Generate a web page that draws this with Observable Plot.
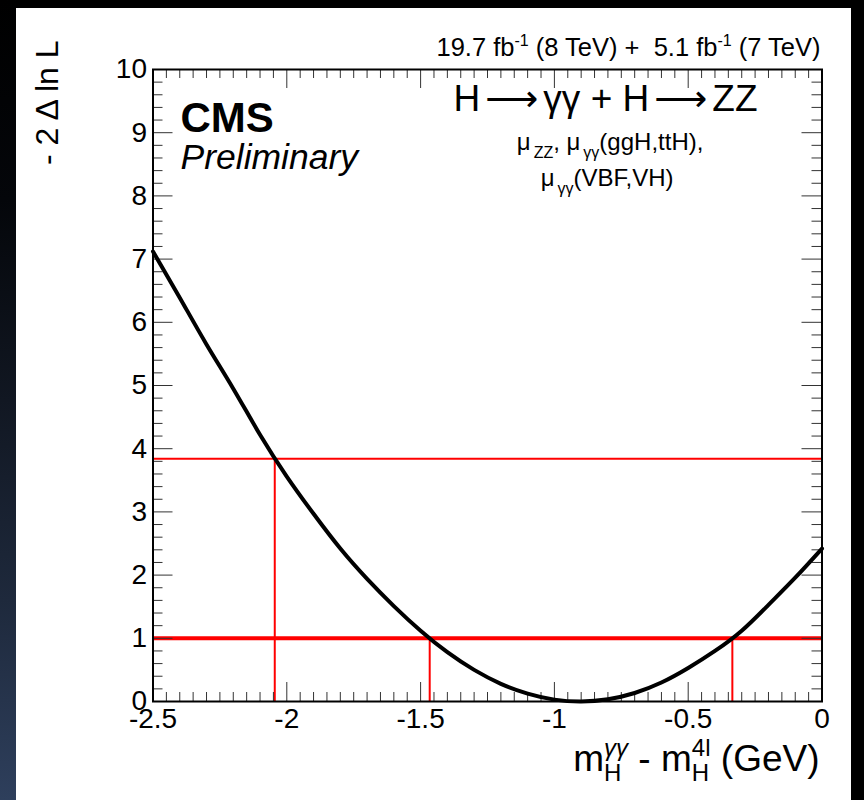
<!DOCTYPE html>
<html>
<head>
<meta charset="utf-8">
<script src="https://cdn.jsdelivr.net/npm/d3@7"></script>
<script src="https://cdn.jsdelivr.net/npm/@observablehq/plot@0.6"></script>
<style>
  html, body { margin: 0; padding: 0; background: #000; width: 864px; height: 800px; overflow: hidden; }
  #strip { position: absolute; left: 0; top: 0; width: 16px; height: 800px;
    background: linear-gradient(to bottom, #000 0%, #04060a 25%, #111722 50%, #1e293c 75%, #2e3f5c 100%); }
  #panel { position: absolute; left: 16px; top: 8px; width: 835px; height: 792px; background: #fff; }
  #panel svg { display: block; }
  text { white-space: pre; }
</style>
</head>
<body>
<div id="strip"></div>
<div id="panel"></div>
<script>
// Profile likelihood scan: -2 Δln L versus the mass difference m_H(γγ) - m_H(4l)
const scanDm = [-2.5, -2.4, -2.3, -2.2, -2.1, -2.0, -1.9, -1.8, -1.7, -1.6, -1.5, -1.4, -1.3,
                -1.2, -1.1, -1.0, -0.9, -0.8, -0.7, -0.6, -0.5, -0.4, -0.3, -0.2, -0.1, 0.0];
const scanNll = [7.12, 6.39, 5.65, 4.95, 4.22, 3.56, 2.97, 2.42, 1.94, 1.51, 1.12, 0.78, 0.50,
                 0.28, 0.125, 0.03, 0.0, 0.035, 0.135, 0.30, 0.53, 0.80, 1.12, 1.53, 1.96, 2.42];

// Confidence-level thresholds and where the scan crosses them
const levels = [3.84, 1];
const crossDm = [-2.045, -1.466, -0.335];
const crossLevel = [3.84, 1, 1];

// Axis ticks
const xDomain = [-2.5, 0];
const yDomain = [0, 10];
const xTicks = [-2.5, -2, -1.5, -1, -0.5, 0];
const yTicks = [0, 1, 2, 3, 4, 5, 6, 7, 8, 9, 10];

const scan = scanDm.map((x, i) => ({x, y: scanNll[i]}));
const crossings = crossDm.map((x, i) => ({x, level: crossLevel[i]}));

const W = 835, H = 792;
const mL = 136.5, mR = 29.5, mT = 61, mB = 99;
const fw = W - mL - mR, fh = H - mT - mB;

const xMinor = d3.range(0, 51).map(i => +(xDomain[0] + i * 0.05).toFixed(2)).filter(v => !xTicks.includes(v));
const yMinor = d3.range(0, 51).map(i => +(i * 0.2).toFixed(1)).filter(v => !yTicks.includes(v));

const FONT = "'Liberation Sans', Arial, Helvetica, sans-serif";
const ARROW_FONT = "'DejaVu Sans', sans-serif";
const tickColor = "#333";

const chart = Plot.plot({
  width: W, height: H,
  marginLeft: mL, marginRight: mR, marginTop: mT, marginBottom: mB,
  style: {fontFamily: FONT, background: "transparent", color: "#000"},
  x: {domain: xDomain, label: null},
  y: {domain: yDomain, label: null},
  marks: [
    // threshold lines
    Plot.ruleY([levels[0]], {x1: xDomain[0], x2: xDomain[1], stroke: "#ff0000", strokeWidth: 2}),
    Plot.ruleY([levels[1]], {x1: xDomain[0], x2: xDomain[1], stroke: "#ff0000", strokeWidth: 4}),
    Plot.ruleX(crossings, {x: "x", y1: 0, y2: "level", stroke: "#ff0000", strokeWidth: 2}),
    // inward ticks on all four sides
    Plot.tickY(yTicks, {y: d => d, insetRight: fw - 20, stroke: tickColor}),
    Plot.tickY(yMinor, {y: d => d, insetRight: fw - 10, stroke: tickColor}),
    Plot.tickY(yTicks, {y: d => d, insetLeft: fw - 20, stroke: tickColor}),
    Plot.tickY(yMinor, {y: d => d, insetLeft: fw - 10, stroke: tickColor}),
    Plot.tickX(xTicks, {x: d => d, insetTop: fh - 19, stroke: tickColor}),
    Plot.tickX(xMinor, {x: d => d, insetTop: fh - 9, stroke: tickColor}),
    Plot.tickX(xTicks, {x: d => d, insetBottom: fh - 19, stroke: tickColor}),
    Plot.tickX(xMinor, {x: d => d, insetBottom: fh - 9, stroke: tickColor}),
    // likelihood scan
    Plot.line(scan, {x: "x", y: "y", stroke: "#000", strokeWidth: 4, curve: "natural"}),
    Plot.frame({stroke: "#000", strokeWidth: 2}),
    Plot.axisY(yTicks, {anchor: "left", tickSize: 0, tickPadding: 6, fontSize: 28, tickFormat: d => String(d), label: null}),
    Plot.axisX(xTicks, {anchor: "bottom", tickSize: 0, tickPadding: 7, fontSize: 28, tickFormat: d => String(d), label: null}),
    // labels inside the frame
    Plot.text(["CMS"], {frameAnchor: "top-left", dx: 27.5, dy: 62, lineAnchor: "bottom", textAnchor: "start",
      fontSize: 42, fontWeight: "bold", fill: "#000"}),
    Plot.text(["Preliminary"], {frameAnchor: "top-left", dx: 27.5, dy: 99, lineAnchor: "bottom", textAnchor: "start",
      fontSize: 35.5, fontStyle: "italic", fill: "#000"}),
    // y axis title
    Plot.text(["- 2 \u0394 ln L"], {frameAnchor: "top-left", dx: -95, dy: -29, rotate: -90, lineAnchor: "bottom",
      textAnchor: "end", fontSize: 32, fill: "#000"})
  ]
});

document.getElementById("panel").appendChild(chart);

// Rich text with sub/superscripts, placed relative to the frame
const svg = d3.select(chart);
const xr = chart.scale("x").range;   // [left, right]
const yr = chart.scale("y").range;   // [bottom, top]

function rich(x, y, anchor, parts) {
  const t = svg.append("text")
    .attr("x", x).attr("y", y)
    .attr("text-anchor", anchor)
    .attr("font-family", FONT)
    .attr("fill", "#000");
  for (const p of parts) {
    const s = t.append("tspan").attr("font-size", p.size).text(p.t);
    if (p.font) s.attr("font-family", p.font);
    if (p.style) s.attr("font-style", p.style);
    if (p.dx) s.attr("dx", p.dx);
    if (p.dy) s.attr("dy", p.dy);
  }
  return t;
}

// process label
rich(xr[1] - 64, yr[1] + 42, "end", [
  {t: "H", size: 37},
  {t: "\u27f6", size: 37, font: ARROW_FONT, dx: 5},
  {t: "\u03b3\u03b3 + H", size: 37, dx: 5},
  {t: "\u27f6", size: 37, font: ARROW_FONT, dx: 5},
  {t: "ZZ", size: 37, dx: 5}
]);

// luminosity label above the frame
rich(xr[1] - 1, yr[1] - 13, "end", [
  {t: "19.7 fb", size: 25.5},
  {t: "-1", size: 16, dy: -10},
  {t: " (8 TeV) +  5.1 fb", size: 25.5, dy: 10},
  {t: "-1", size: 16, dy: -10},
  {t: " (7 TeV)", size: 25.5, dy: 10}
]);

// signal-strength parameters of the fit
const muX = chart.scale("x").apply(-0.79);
rich(muX, yr[1] + 81, "middle", [
  {t: "\u03bc", size: 24},
  {t: "ZZ", size: 16, dx: 3, dy: 8},
  {t: ", \u03bc", size: 24, dy: -8},
  {t: "\u03b3\u03b3", size: 16, dx: 3, dy: 8},
  {t: "(ggH,ttH),", size: 24, dy: -8}
]);
rich(muX - 3, yr[1] + 117, "middle", [
  {t: "\u03bc", size: 24},
  {t: "\u03b3\u03b3", size: 16, dx: 3, dy: 8},
  {t: "(VBF,VH)", size: 24, dy: -8}
]);

// x axis title
rich(xr[1] - 2, yr[0] + 70, "end", [
  {t: "m", size: 37},
  {t: "H", size: 24, dy: 10},
  {t: "\u03b3\u03b3", size: 24, dx: -17.3, dy: -25, style: "italic"},
  {t: " - m", size: 37, dy: 15},
  {t: "H", size: 24, dy: 10},
  {t: "4l", size: 24, dx: -17.3, dy: -25},
  {t: " (GeV)", size: 37, dy: 15}
]);
</script>
</body>
</html>
